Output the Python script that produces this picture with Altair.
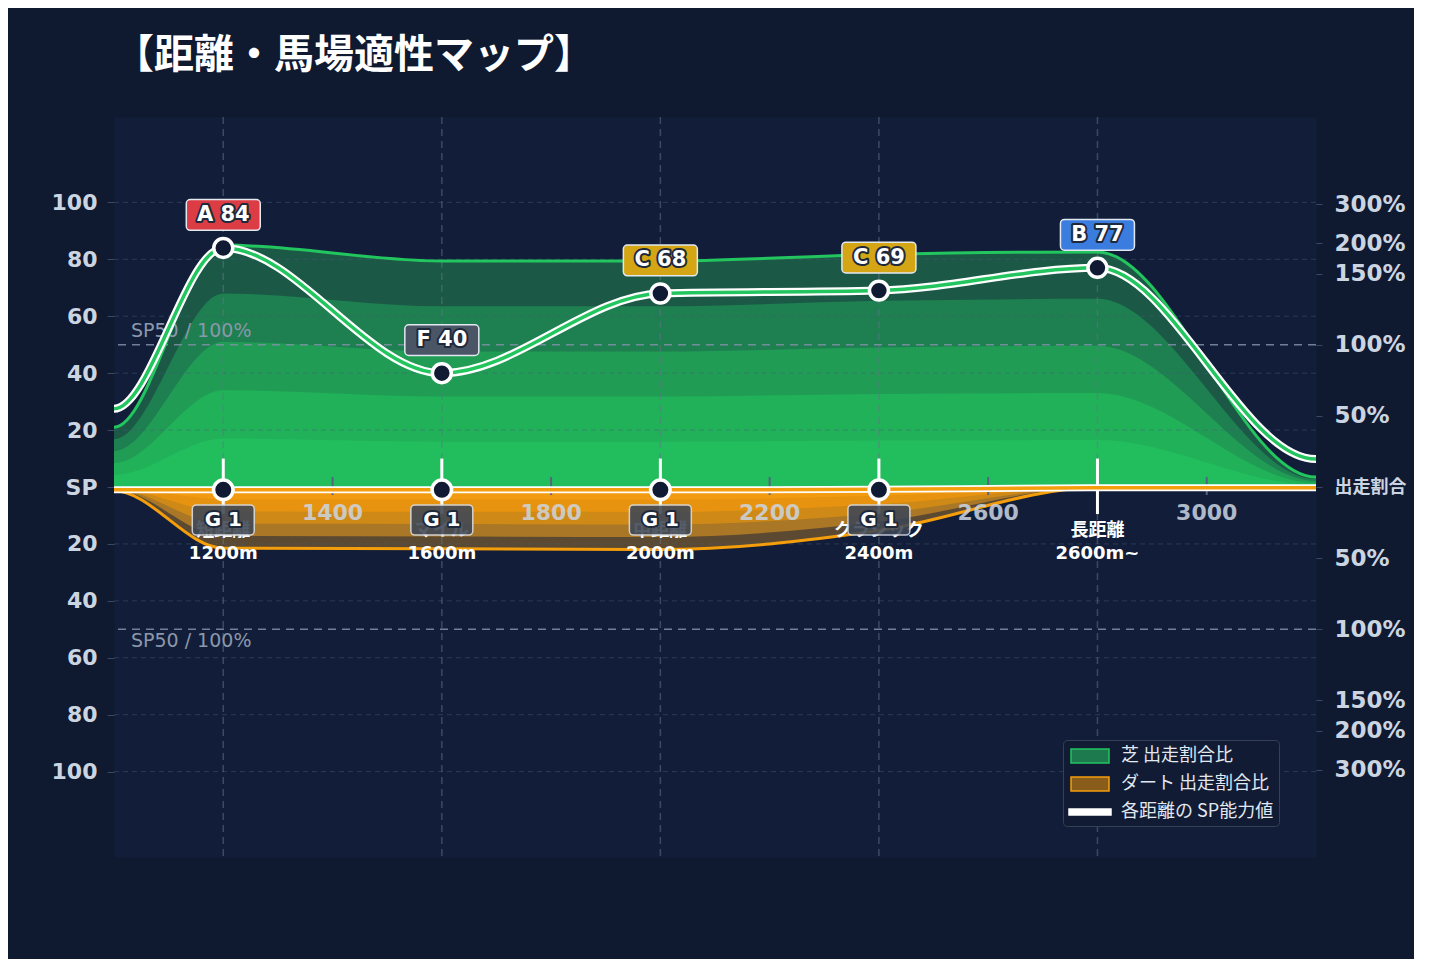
import altair as alt
import pandas as pd

FONT = "DejaVu Sans, Noto Sans CJK JP"
CJK = "Noto Sans CJK JP, DejaVu Sans"

# ---------------- data ----------------
dist = [800, 1000, 1200, 1600, 2000, 2400, 2800, 3200, 3400]

# turf share bands (outer -> inner)
turf_band5 = [21.0, 21.0, 85.0, 79.4, 79.4, 81.7, 82.6, 3.5, 3.5]
turf_band4 = [16.8, 16.8, 68.0, 63.5, 63.5, 65.4, 66.1, 2.8, 2.8]
turf_band3 = [12.6, 12.6, 51.0, 47.6, 47.6, 49.0, 49.6, 2.1, 2.1]
turf_band2 = [8.4, 8.4, 34.0, 31.8, 31.8, 32.7, 33.0, 1.4, 1.4]
turf_band1 = [4.2, 4.2, 17.0, 15.9, 15.9, 16.3, 16.5, 0.7, 0.7]

# dirt share bands (outer -> inner), drawn downward
dirt_band5 = [1.3, 1.3, 21.5, 21.7, 22.0, 15.3, 0.3, 0.3, 0.3]
dirt_band4 = [1.0, 1.0, 17.2, 17.4, 17.6, 12.2, 0.2, 0.2, 0.2]
dirt_band3 = [0.8, 0.8, 12.9, 13.0, 13.2, 9.2, 0.2, 0.2, 0.2]
dirt_band2 = [0.5, 0.5, 8.6, 8.7, 8.8, 6.1, 0.1, 0.1, 0.1]
dirt_band1 = [0.3, 0.3, 4.3, 4.3, 4.4, 3.1, 0.1, 0.1, 0.1]

turf_sp = [27.5, 27.5, 84, 40, 68, 69, 77, 9.8, 9.8]
dirt_sp = [1.0, 1.0, 1.0, 1.0, 1.0, 0.8, 0.3, 0.3, 0.3]

grade_dist = [1200, 1600, 2000, 2400, 2800]
grade_rank = ["A", "F", "C", "C", "B"]
grade_sp = [84, 40, 68, 69, 77]
rank_domain = ["A", "B", "C", "F"]
rank_colors = ["#dc3d45", "#3a7ddf", "#d4a514", "#4a5666"]

dirt_grade_dist = [1200, 1600, 2000, 2400]
dirt_grade_rank = ["G", "G", "G", "G"]
dirt_grade_sp = [1, 1, 1, 1]

cat_dist = [1200, 1600, 2000, 2400, 2800]
cat_names = ["短距離", "マイル", "中距離", "クラシック", "長距離"]
cat_ranges = ["1200m", "1600m", "2000m", "2400m", "2600m~"]

xtick_vals = [1400, 1800, 2200, 2600, 3000]
left_ticks = [-100, -80, -60, -40, -20, 0, 20, 40, 60, 80, 100]
right_pos = [25, 50, 75, 85.6, 99.3]
right_text = ["50%", "100%", "150%", "200%", "300%"]
sp50_vals = [50, -50]
sp50_text = "SP50 / 100%"
legend_names = ["芝 出走割合比", "ダート 出走割合比", "各距離の SP能力値"]

turf_colors = ["#1b5946", "#1e7f50", "#209c55", "#21b159", "#22be5d"]
dirt_colors = ["#5b4a31", "#a97726", "#cf8916", "#e7930f", "#f29b10"]
GREEN = "#22c55e"
ORANGE = "#f59e0b"

# ---------------- scales / helpers ----------------
xs = alt.Scale(domain=[1000, 3200], nice=False, zero=False)
ys = alt.Scale(domain=[-130, 130], nice=False, zero=False)


def X(f):
    return alt.X(f, scale=xs, axis=None)


def Y(f):
    return alt.Y(f, scale=ys, axis=None)


def YD(v):
    return alt.YDatum(v, scale=ys, axis=None)


def series_df(vals, sign=1):
    return pd.DataFrame({"d": dist, "v": [sign * v for v in vals]})


layers = []

# turf areas
for i, band in enumerate([turf_band5, turf_band4, turf_band3, turf_band2, turf_band1]):
    layers.append(
        alt.Chart(series_df(band)).mark_area(interpolate="monotone", color=turf_colors[i], clip=True)
        .encode(x=X("d:Q"), y=Y("v:Q"), y2=alt.Y2Datum(0))
    )
# dirt areas
for i, band in enumerate([dirt_band5, dirt_band4, dirt_band3, dirt_band2, dirt_band1]):
    layers.append(
        alt.Chart(series_df(band, -1)).mark_area(interpolate="monotone", color=dirt_colors[i], clip=True)
        .encode(x=X("d:Q"), y=Y("v:Q"), y2=alt.Y2Datum(0))
    )

# horizontal grid
grid_df = pd.DataFrame({"v": [t for t in left_ticks if t != 0]})
layers.append(
    alt.Chart(grid_df).mark_rule(color="#4a5a7a", strokeDash=[5, 4], strokeWidth=1, opacity=0.45)
    .encode(y=Y("v:Q"))
)
# vertical category lines
cat_df = pd.DataFrame({"d": cat_dist, "name": cat_names, "rng": cat_ranges})
layers.append(
    alt.Chart(cat_df).mark_rule(color="#64748b", strokeDash=[7, 5], strokeWidth=1.5, opacity=0.5)
    .encode(x=X("d:Q"))
)
# SP50 lines and labels
sp_df = pd.DataFrame({"v": sp50_vals, "t": [sp50_text, sp50_text]})
layers.append(
    alt.Chart(sp_df).mark_rule(color="#8391a8", strokeDash=[8, 6], strokeWidth=1.5, opacity=0.85)
    .encode(y=Y("v:Q"))
)
layers.append(
    alt.Chart(sp_df.iloc[[0]]).mark_text(font="DejaVu Sans", fontSize=19, color="#8b97ab", align="left",
                                         baseline="middle", dy=-14)
    .encode(x=alt.XDatum(1031, scale=xs, axis=None), y=Y("v:Q"), text="t:N")
)
layers.append(
    alt.Chart(sp_df.iloc[[1]]).mark_text(font="DejaVu Sans", fontSize=19, color="#8b97ab", align="left",
                                         baseline="middle", dy=12)
    .encode(x=alt.XDatum(1031, scale=xs, axis=None), y=Y("v:Q"), text="t:N")
)

# outer boundary lines
layers.append(
    alt.Chart(series_df(turf_band5)).mark_line(interpolate="monotone", color=GREEN, strokeWidth=3, clip=True)
    .encode(x=X("d:Q"), y=Y("v:Q"))
)
layers.append(
    alt.Chart(series_df(dirt_band5, -1)).mark_line(interpolate="monotone", color=ORANGE, strokeWidth=3, clip=True)
    .encode(x=X("d:Q"), y=Y("v:Q"))
)

# small x ticks and labels in the middle
xt_df = pd.DataFrame({"d": xtick_vals, "t": [str(v) for v in xtick_vals]})
layers.append(
    alt.Chart(xt_df).mark_rule(color="#56647e", strokeWidth=2)
    .encode(x=X("d:Q"), y=YD(3.5), y2=alt.Y2Datum(-2.8))
)
layers.append(
    alt.Chart(xt_df).mark_text(font="DejaVu Sans", fontSize=22, fontWeight="bold", color="#cbd5e1",
                               opacity=0.85, baseline="middle")
    .encode(x=X("d:Q"), y=YD(-9.1), text="t:N")
)

# white category ticks
layers.append(
    alt.Chart(cat_df).mark_rule(color="white", strokeWidth=3)
    .encode(x=X("d:Q"), y=YD(10), y2=alt.Y2Datum(-9.5))
)
# category names and ranges
layers.append(
    alt.Chart(cat_df).mark_text(font=CJK, fontSize=18, fontWeight="bold", color="white", baseline="middle")
    .encode(x=X("d:Q"), y=YD(-15.4), text="name:N")
)
layers.append(
    alt.Chart(cat_df).mark_text(font="DejaVu Sans", fontSize=18, fontWeight="bold", color="white", baseline="middle")
    .encode(x=X("d:Q"), y=YD(-23.6), text="rng:N")
)

# SP lines
layers.append(
    alt.Chart(series_df(dirt_sp, -1)).mark_line(interpolate="monotone", color="white", strokeWidth=7, clip=True)
    .encode(x=X("d:Q"), y=Y("v:Q"))
)
layers.append(
    alt.Chart(series_df(dirt_sp, -1)).mark_line(interpolate="monotone", color=ORANGE, strokeWidth=3.5, clip=True)
    .encode(x=X("d:Q"), y=Y("v:Q"))
)
layers.append(
    alt.Chart(series_df(turf_sp)).mark_line(interpolate="monotone", color="white", strokeWidth=8, clip=True)
    .encode(x=X("d:Q"), y=Y("v:Q"))
)
layers.append(
    alt.Chart(series_df(turf_sp)).mark_line(interpolate="monotone", color=GREEN, strokeWidth=3.5, clip=True)
    .encode(x=X("d:Q"), y=Y("v:Q"))
)

# dirt grade markers
dg_df = pd.DataFrame({"d": dirt_grade_dist, "r": dirt_grade_rank, "s": dirt_grade_sp})
dg = alt.Chart(dg_df).transform_calculate(
    cy="-datum.s", lbl="datum.r + ' ' + datum.s",
    bx1="datum.d - 56.7", bx2="datum.d + 56.7",
    by="-datum.s - 10.6", by1="-datum.s - 15.9", by2="-datum.s - 5.3",
)
layers.append(
    dg.mark_rect(fill="#3e4756", opacity=0.88, stroke="#d5dce6", strokeWidth=1.5, cornerRadius=4)
    .encode(x=X("bx1:Q"), x2="bx2:Q", y=Y("by1:Q"), y2="by2:Q")
)
layers.append(
    dg.mark_text(font="DejaVu Sans", fontSize=20, fontWeight="bold", color="#1e293b", stroke="#1e293b",
                 strokeWidth=4, strokeJoin="round", baseline="middle")
    .encode(x=X("d:Q"), y=Y("by:Q"), text="lbl:N")
)
layers.append(
    dg.mark_text(font="DejaVu Sans", fontSize=20, fontWeight="bold", color="white", baseline="middle")
    .encode(x=X("d:Q"), y=Y("by:Q"), text="lbl:N")
)
layers.append(
    dg.mark_point(shape="circle", size=380, filled=True, fill="#111a33", stroke="white", strokeWidth=3.5, opacity=1)
    .encode(x=X("d:Q"), y=Y("cy:Q"))
)

# turf grade markers
g_df = pd.DataFrame({"d": grade_dist, "r": grade_rank, "s": grade_sp})
g = alt.Chart(g_df).transform_calculate(
    lbl="datum.r + ' ' + datum.s",
    bx1="datum.d - 67.7", bx2="datum.d + 67.7",
    by="datum.s + 11.6", by1="datum.s + 6.2", by2="datum.s + 17.0",
)
layers.append(
    g.mark_point(shape="circle", size=360, filled=True, fill="#111a33", stroke="white", strokeWidth=3.5, opacity=1)
    .encode(x=X("d:Q"), y=Y("s:Q"))
)
layers.append(
    g.mark_rect(stroke="#e2e8f0", strokeWidth=1.5, cornerRadius=4)
    .encode(x=X("bx1:Q"), x2="bx2:Q", y=Y("by1:Q"), y2="by2:Q",
            color=alt.Color("r:N", scale=alt.Scale(domain=rank_domain, range=rank_colors), legend=None))
)
layers.append(
    g.mark_text(font="DejaVu Sans", fontSize=21, fontWeight="bold", color="#1e293b", stroke="#1e293b",
                strokeWidth=4, strokeJoin="round", baseline="middle")
    .encode(x=X("d:Q"), y=Y("by:Q"), text="lbl:N")
)
layers.append(
    g.mark_text(font="DejaVu Sans", fontSize=21, fontWeight="bold", color="white", baseline="middle")
    .encode(x=X("d:Q"), y=Y("by:Q"), text="lbl:N")
)

# legend carrier (no visible points)
leg_df = pd.DataFrame({"series": legend_names, "lx": [None, None, None], "ly": [None, None, None]})
leg = alt.Legend(title=None, orient="none", legendX=949, legendY=623, symbolSize=400,
                 labelFont=CJK, labelFontSize=18, labelColor="#e2e8f0", labelOffset=31,
                 padding=5, rowPadding=7, fillColor="#111b34", strokeColor="#334155",
                 cornerRadius=4, symbolStrokeWidth=1.5, symbolOpacity=1)
shape_range = ["M-0.8,-0.7H3.0V0.7H-0.8Z", "M-0.8,-0.7H3.0V0.7H-0.8Z",
               "M-1.0,-0.29H3.2V0.29H-1.0Z"]
layers.append(
    alt.Chart(leg_df).mark_point(filled=True, opacity=1, strokeWidth=1.5)
    .encode(
        x=X("lx:Q"), y=Y("ly:Q"),
        fill=alt.Fill("series:N", scale=alt.Scale(domain=legend_names, range=["#1d7a4e", "#8a5c1c", "#ffffff"]), legend=leg),
        stroke=alt.Stroke("series:N", scale=alt.Scale(domain=legend_names, range=[GREEN, ORANGE, "#ffffff"]), legend=leg),
        shape=alt.Shape("series:N", scale=alt.Scale(domain=legend_names, range=shape_range), legend=leg),
    )
)

main = alt.layer(*layers)

# left axis
left_axis = alt.Axis(
    values=left_ticks, orient="left", grid=False, domain=False,
    labelExpr="datum.value == 0 ? 'SP' : '' + abs(datum.value)",
    tickSize=7, tickColor="#3a4866", tickWidth=1,
    labelFont="DejaVu Sans", labelFontSize=22, labelFontWeight="bold",
    labelColor="#cbd5e1", labelPadding=10, title=None,
)
left = alt.Chart(pd.DataFrame({"v": sp50_vals})).mark_rule(strokeOpacity=0).encode(
    y=alt.Y("v:Q", scale=ys, axis=left_axis)
)

# right axis
rexpr = "abs(datum.value) < 5 ? '出走割合' : "
for p, t in zip(right_pos, right_text):
    rexpr += f"abs(abs(datum.value) - {p}) < 1 ? '{t}' : "
rexpr += "''"
right_vals = sorted([-p for p in right_pos] + [0] + right_pos)
right_axis = alt.Axis(
    values=right_vals, orient="right", grid=False, domain=False, labelExpr=rexpr,
    tickSize=6, tickColor="#3a4866", labelPadding=12, labelFont=FONT,
    labelFontSize={"condition": {"test": "datum.value == 0", "value": 18}, "value": 23},
    labelFontWeight="bold", labelColor="#cbd5e1", title=None,
)
right = alt.Chart(pd.DataFrame({"v": sp50_vals})).mark_rule(strokeOpacity=0).encode(
    y=alt.Y("v:Q", scale=ys, axis=right_axis)
)

chart = (
    alt.layer(left, main, right)
    .resolve_scale(y="independent")
    .properties(
        width=1202, height=740,
        padding={"left": 106, "top": 109, "right": 98, "bottom": 102},
        autosize=alt.AutoSizeParams(type="none"),
        background="#0f1930",
        title=alt.Title("【距離・馬場適性マップ】", font=CJK, fontSize=40, fontWeight="bold",
                        color="white", anchor="start", offset=40, frame="group"),
    )
    .configure_view(fill="#121e39", stroke="transparent")
)

chart.save("out.html", embed_options={"renderer": "svg", "actions": False})
